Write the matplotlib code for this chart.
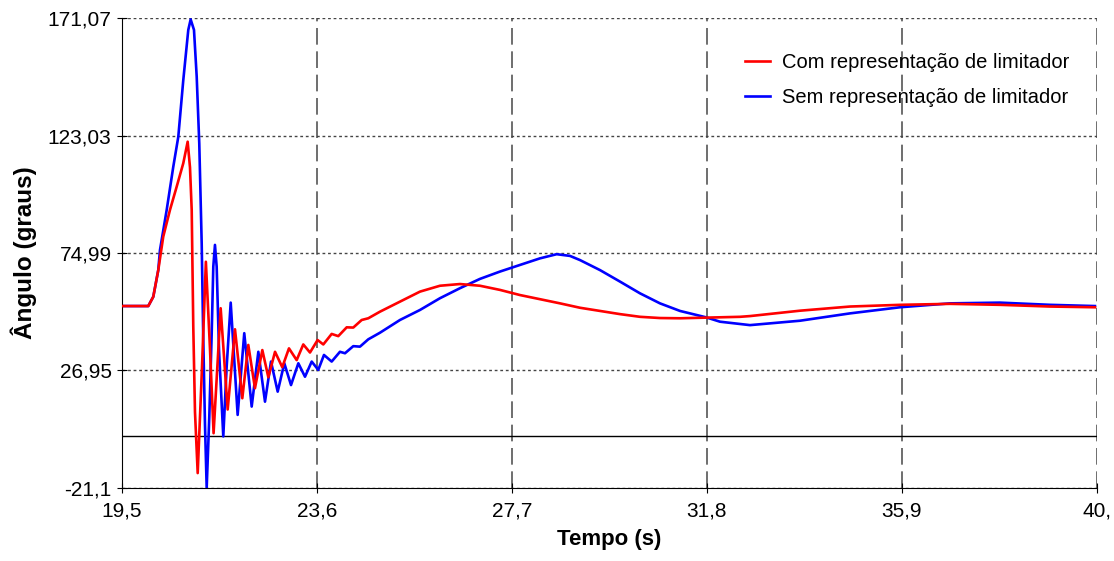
import matplotlib.pyplot as plt

plt.rcParams['font.family'] = ['Liberation Sans', 'DejaVu Sans']

# Curva com representação do limitador (vermelha)
t_com = [19.5, 20.053, 20.158, 20.263, 20.368, 20.509, 20.65, 20.789, 20.881, 20.93, 20.966,
         20.999, 21.035, 21.092, 21.182, 21.264, 21.35, 21.426, 21.575, 21.722, 21.876, 22.03,
         22.156, 22.296, 22.451, 22.577, 22.718, 22.87, 23.011, 23.173, 23.312, 23.453, 23.613,
         23.733, 23.909, 24.048, 24.225, 24.363, 24.54, 24.679, 24.925, 25.345, 25.766, 26.186,
         26.607, 27.027, 27.448, 27.868, 28.289, 28.71, 29.13, 29.551, 29.971, 30.392, 30.812,
         31.233, 31.653, 32.495, 32.705, 33.756, 34.807, 35.859, 36.91, 37.961, 39.012, 39.958]
v_com = [53.3, 53.3, 57.1, 68.0, 81.7, 92.6, 102.1, 111.7, 120.5, 110.0, 92.6,
         45.0, 10.0, -15.0, 28.0, 71.4, 36.0, 1.3, 52.4, 11.0, 43.8, 15.6,
         37.4, 19.7, 35.3, 24.2, 34.6, 28.3, 36.0, 31.2, 37.6, 34.3, 39.4,
         37.6, 41.9, 41.0, 44.6, 44.5, 47.6, 48.3, 51.0, 55.1, 59.2, 61.6,
         62.3, 61.6, 59.9, 57.8, 56.1, 54.4, 52.6, 51.3, 50.0, 48.9, 48.4,
         48.3, 48.5, 48.9, 49.2, 51.4, 53.1, 53.8, 54.2, 53.8, 53.1, 52.8]

# Curva sem representação do limitador (azul)
t_sem = [19.5, 20.053, 20.158, 20.263, 20.299, 20.44, 20.579, 20.684, 20.789, 20.894, 20.944,
         21.014, 21.071, 21.125, 21.176, 21.209, 21.245, 21.281, 21.336, 21.386, 21.42, 21.455,
         21.491, 21.54, 21.63, 21.701, 21.786, 21.932, 22.071, 22.227, 22.367, 22.507, 22.633,
         22.774, 22.913, 23.054, 23.208, 23.348, 23.489, 23.627, 23.747, 23.909, 24.083, 24.189,
         24.363, 24.504, 24.679, 24.925, 25.345, 25.766, 26.186, 26.607, 27.027, 27.448, 27.868,
         28.289, 28.64, 28.92, 29.13, 29.551, 29.971, 30.392, 30.812, 31.233, 31.779, 32.074,
         32.705, 33.756, 34.807, 35.859, 36.91, 37.961, 39.012, 39.958]
v_sem = [53.3, 53.3, 57.1, 68.0, 76.2, 92.6, 110.3, 122.5, 145.7, 166.2, 170.5,
         166.2, 147.1, 119.8, 78.9, 40.0, 5.0, -21.0, 8.1, 42.0, 69.4, 78.3,
         69.4, 35.4, 0.0, 28.5, 54.7, 8.8, 42.2, 12.2, 34.6, 14.2, 30.6,
         18.3, 29.9, 21.0, 29.9, 24.4, 30.6, 27.2, 33.3, 30.6, 34.6, 34.0,
         36.9, 36.7, 39.7, 42.4, 47.6, 51.7, 56.5, 60.6, 64.4, 67.4, 70.1,
         72.8, 74.5, 73.8, 72.1, 68.0, 63.3, 58.5, 54.4, 51.3, 48.7, 46.9,
         45.5, 47.3, 50.3, 52.8, 54.4, 54.7, 53.8, 53.3]

x_ticks = [19.5, 23.6, 27.7, 31.8, 35.9, 40.0]
x_labels = ['19,5', '23,6', '27,7', '31,8', '35,9', '40,']
y_ticks = [-21.1, 26.95, 74.99, 123.03, 171.07]
y_labels = ['-21,1', '26,95', '74,99', '123,03', '171,07']

fig = plt.figure(figsize=(11.14, 5.61), dpi=100)
ax = fig.add_axes([0.1095, 0.1301, 0.8752, 0.8378])

ax.axhline(0, color='black', lw=1, zorder=1)
ax.plot(t_com, v_com, color='#ff0000', lw=1.9, label='Com representação de limitador', zorder=3)
ax.plot(t_sem, v_sem, color='#0000ff', lw=1.9, label='Sem representação de limitador', zorder=2)

ax.set_xlim(19.5, 40.0)
ax.set_ylim(-21.1, 171.07)
ax.set_xticks(x_ticks, x_labels, fontsize=15)
ax.set_yticks(y_ticks, y_labels, fontsize=15)
ax.tick_params(axis='y', direction='inout', length=7, pad=4)
ax.tick_params(axis='x', direction='inout', length=7, pad=6)

ax.xaxis.grid(True, color='#555555', lw=1.2, ls=(0, (10, 4)))
ax.yaxis.grid(True, color='#444444', lw=1.0, ls=(0, (2, 2)))
ax.set_axisbelow(True)

for s in ['top', 'right']:
    ax.spines[s].set_visible(False)

ax.set_xlabel('Tempo (s)', fontsize=16, fontweight='bold', labelpad=6)
ax.set_ylabel('Ângulo (graus)', fontsize=17.5, fontweight='bold', labelpad=8)

ax.legend(frameon=False, loc='upper right', bbox_to_anchor=(0.99, 0.965), fontsize=14.5,
          handlelength=1.2, handletextpad=0.6, labelspacing=0.8)

plt.savefig('out.png', dpi=100)
